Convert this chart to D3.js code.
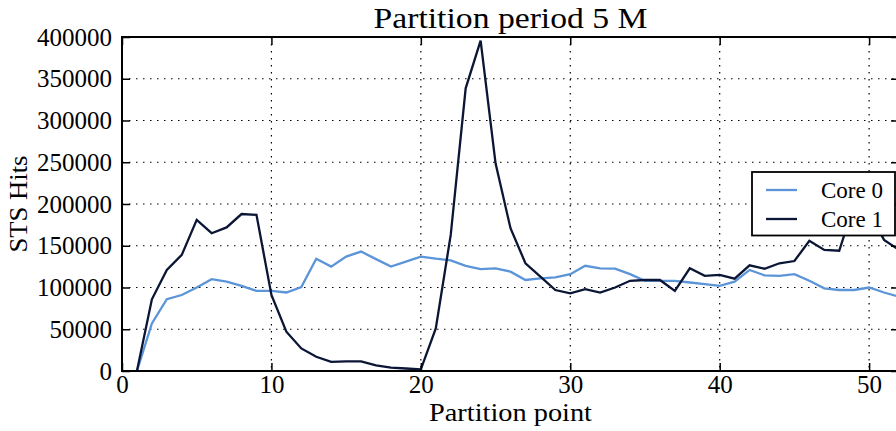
<!DOCTYPE html>
<html><head><meta charset="utf-8">
<script src="https://cdn.jsdelivr.net/npm/d3@7"></script>
<style>body{margin:0;background:#fff}svg{display:block}text{font-family:"Liberation Serif","DejaVu Serif",serif;fill:#000}</style>
</head><body>
<svg id="c" width="896" height="431"></svg>
<script>
const partitionPoints = d3.range(1, 53);
const core0 = [0,57000,86000,91000,100000,110000,107000,102000,96000,96000,
  94000,100600,134500,125000,137000,143000,134000,125000,131000,137000,
  134500,132500,126000,122000,123000,119000,109000,111000,112000,116000,
  126000,123000,122500,116000,108000,108000,108000,106000,104000,102000,
  107000,121000,114600,114000,116000,108000,99000,97000,97000,100000,
  94000,89000];
const core1 = [0,85900,121000,139000,181000,165000,172000,188000,187000,91000,
  47000,27000,17000,11000,11500,11600,6800,4000,3000,2000,
  51000,163000,338500,395600,248700,171000,129000,113000,97000,93000,
  98000,94000,100000,108000,109000,109000,96000,123000,114000,115000,
  110600,126500,122500,129000,131700,156000,145000,144000,200000,190000,
  157000,145000];
const xTicks = [0,10,20,30,40,50];
const yTicks = [0,50000,100000,150000,200000,250000,300000,350000,400000];
const seriesNames = ["Core 0","Core 1"];
const seriesColors = ["#5b95d8","#0b1535"];
const titleText = "Partition period 5 M";
const xLabel = "Partition point";
const yLabel = "STS Hits";

const svg = d3.select("#c");
const L = 122, R = 899, T = 37, B = 371;
const x = d3.scaleLinear().domain([0, 52]).range([L, R]);
const y = d3.scaleLinear().domain([0, 400000]).range([B, T]);

// grid
const g = svg.append("g");
g.selectAll("line.gx").data(xTicks.filter(d => d > 0)).join("line")
  .attr("x1", d => x(d)).attr("x2", d => x(d)).attr("y1", T).attr("y2", B)
  .attr("stroke", "#000").attr("stroke-width", 1.2).attr("stroke-dasharray", "1.5,5.5");
g.selectAll("line.gy").data(yTicks.filter(d => d > 0 && d < 400000)).join("line")
  .attr("x1", L).attr("x2", R).attr("y1", d => y(d)).attr("y2", d => y(d))
  .attr("stroke", "#000").attr("stroke-width", 1.2).attr("stroke-dasharray", "1.5,5.5");

// lines
const series = [core0, core1];
const line = d3.line().x((d, i) => x(partitionPoints[i])).y(d => y(d));
svg.append("defs").append("clipPath").attr("id", "clip").append("rect")
  .attr("x", L).attr("y", T).attr("width", R - L).attr("height", B - T);
series.forEach((s, k) => {
  svg.append("path").datum(s).attr("d", line).attr("fill", "none")
    .attr("stroke", seriesColors[k]).attr("stroke-width", 2.3)
    .attr("stroke-linejoin", "miter").attr("clip-path", "url(#clip)");
});

// axes with inward ticks
const tl = 8;
const xb = svg.append("g").attr("transform", `translate(0,${B})`)
  .call(d3.axisBottom(x).tickValues(xTicks).tickSizeInner(-tl).tickSizeOuter(0).tickPadding(tl + 6));
const xt = svg.append("g").attr("transform", `translate(0,${T})`)
  .call(d3.axisTop(x).tickValues(xTicks).tickSizeInner(-tl).tickSizeOuter(0).tickFormat(""));
const yl = svg.append("g").attr("transform", `translate(${L},0)`)
  .call(d3.axisLeft(y).tickValues(yTicks).tickSizeInner(-tl).tickSizeOuter(0).tickPadding(10).tickFormat(d3.format("d")));
const yr = svg.append("g").attr("transform", `translate(${R},0)`)
  .call(d3.axisRight(y).tickValues(yTicks).tickSizeInner(-tl).tickSizeOuter(0).tickFormat(""));
[xb, xt, yl, yr].forEach(a => {
  a.select(".domain").remove();
  a.selectAll(".tick line").attr("stroke", "#000").attr("stroke-width", 1.5);
  a.selectAll("text").attr("font-family", "Liberation Serif").attr("font-size", 25).attr("fill", "#000");
});
xb.selectAll("text").attr("dy", null).attr("y", 22);
yl.selectAll("text").attr("dy", "0.32em");

// frame
svg.append("rect").attr("x", L).attr("y", T).attr("width", R - L).attr("height", B - T)
  .attr("fill", "none").attr("stroke", "#000").attr("stroke-width", 2);

// title and labels
svg.append("text").attr("x", (L + R) / 2).attr("y", 28).attr("text-anchor", "middle")
  .attr("font-size", 29).attr("textLength", 274).attr("lengthAdjust", "spacingAndGlyphs").text(titleText);
svg.append("text").attr("x", (L + R) / 2).attr("y", 421).attr("text-anchor", "middle")
  .attr("font-size", 25).attr("textLength", 163).attr("lengthAdjust", "spacingAndGlyphs").text(xLabel);
svg.append("text").attr("transform", `translate(27,${(T + B) / 2}) rotate(-90)`).attr("text-anchor", "middle")
  .attr("font-size", 25).attr("textLength", 97).attr("lengthAdjust", "spacingAndGlyphs").text(yLabel);

// legend
const lg = svg.append("g");
lg.append("rect").attr("x", 752).attr("y", 172).attr("width", 143).attr("height", 63.5)
  .attr("fill", "#fff").attr("stroke", "#000").attr("stroke-width", 1.8);
seriesNames.forEach((n, k) => {
  const yy = 190 + k * 29;
  lg.append("line").attr("x1", 766).attr("x2", 797).attr("y1", yy).attr("y2", yy)
    .attr("stroke", seriesColors[k]).attr("stroke-width", 2.3);
  lg.append("text").attr("x", 821).attr("y", yy + 8).attr("font-size", 23).text(n);
});
</script>
</body></html>
